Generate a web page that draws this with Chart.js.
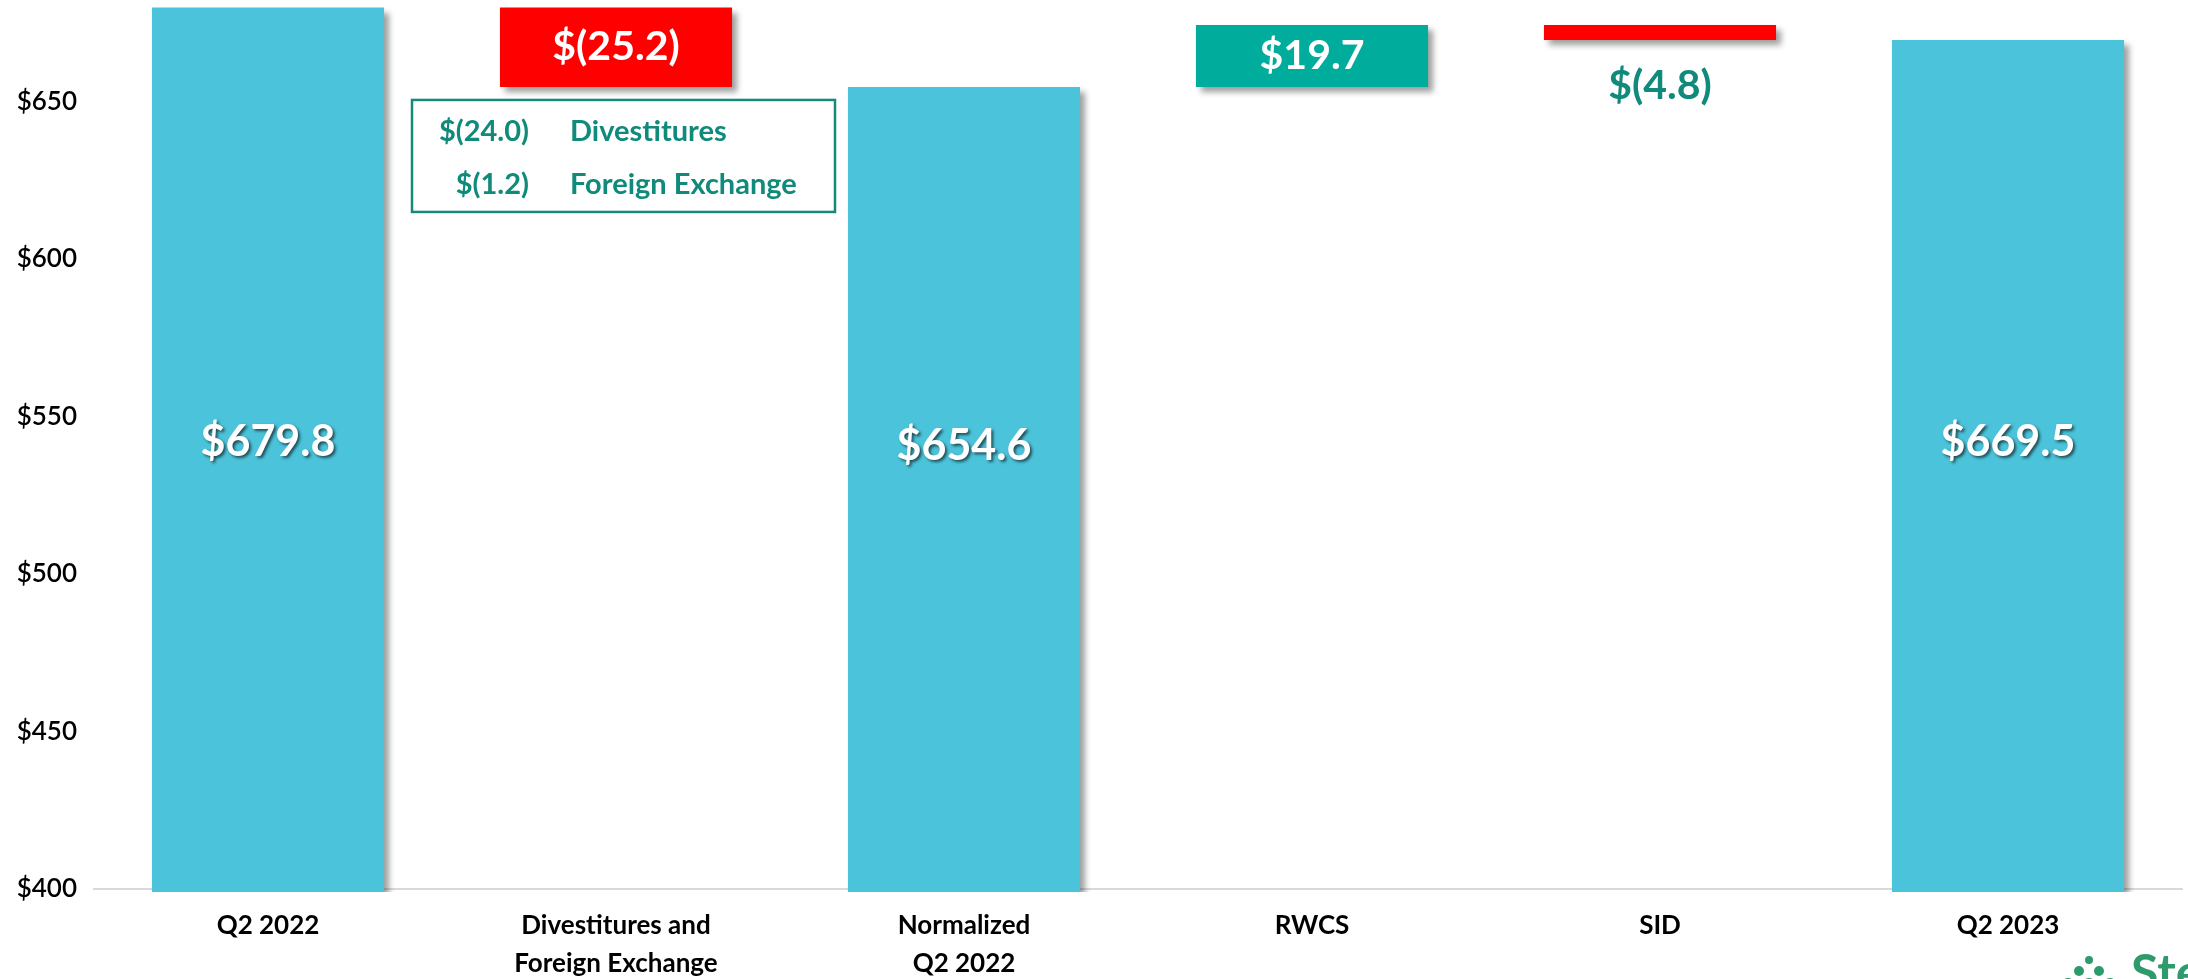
<!DOCTYPE html>
<html>
<head>
<meta charset="utf-8">
<script src="https://cdn.jsdelivr.net/npm/chart.js@4"></script>
<style>
  html, body { margin: 0; padding: 0; background: #fff; }
  #wrap { width: 2188px; height: 979px; }
</style>
</head>
<body>
<div id="wrap"><canvas id="bridgeChart" width="2188" height="979"></canvas></div>
<script>
// bridge Q2 2022 -> Q2 2023 (in $ millions)
const categories = [['Q2 2022'], ['Divestitures and', 'Foreign Exchange'], ['Normalized', 'Q2 2022'], ['RWCS'], ['SID'], ['Q2 2023']];
const stepAmounts = [679.8, -25.2, 654.6, 19.7, -4.8, 669.5];
const stepKinds = ['total', 'change', 'total', 'change', 'change', 'total'];
const yTickValues = [400, 450, 500, 550, 600, 650];
const breakdownNames = ['Divestitures', 'Foreign Exchange'];
const breakdownAmounts = [-24.0, -1.2];

const TOTAL_COLOR = '#4BC3DA';
const DOWN_COLOR = '#FF0000';
const UP_COLOR = '#00AC9B';
const TEAL_TEXT = '#108A7A';

function money(v) {
    const s = Math.abs(v).toFixed(1);
    return v < 0 ? `$(${s})` : `$${s}`;
}

// build floating ranges from running total
let running = 0;
const barRanges = stepAmounts.map((v, i) => {
    if (stepKinds[i] === 'total') {
        running = v;
        return [0, v];
    }
    const from = running;
    running += v;
    return [Math.min(from, running), Math.max(from, running)];
});
const barColors = stepAmounts.map((v, i) =>
    stepKinds[i] === 'total' ? TOTAL_COLOR : (v < 0 ? DOWN_COLOR : UP_COLOR));

// drop shadow under the bars
const barShadow = {
    id: 'barShadow',
    beforeDatasetsDraw(chart) {
        const ctx = chart.ctx;
        ctx.save();
        ctx.shadowColor = 'rgba(0,0,0,0.38)';
        ctx.shadowBlur = 6;
        ctx.shadowOffsetX = 5;
        ctx.shadowOffsetY = 5;
    },
    afterDatasetsDraw(chart) {
        chart.ctx.restore();
    }
};

const waterfallLabels = {
    id: 'waterfallLabels',
    afterDatasetsDraw(chart) {
        const { ctx, scales: { y } } = chart;
        const meta = chart.getDatasetMeta(0);
        ctx.save();
        ctx.textAlign = 'center';
        ctx.textBaseline = 'middle';
        meta.data.forEach((bar, i) => {
            const text = money(stepAmounts[i]);
            if (stepKinds[i] === 'total') {
                ctx.font = 'bold 43px Lato';
                ctx.fillStyle = '#fff';
                ctx.shadowColor = 'rgba(0,0,0,0.6)';
                ctx.shadowBlur = 3;
                ctx.shadowOffsetX = 2;
                ctx.shadowOffsetY = 2;
                ctx.fillText(text, bar.x, y.getPixelForValue(i === 2 ? 540.5 : 542));
                return;
            }
            ctx.shadowColor = 'transparent';
            const top = Math.min(bar.y, bar.base);
            const bottom = Math.max(bar.y, bar.base);
            if (bottom - top > 40) {
                ctx.font = 'bold 41px Lato';
                ctx.fillStyle = '#fff';
                ctx.fillText(text, bar.x, (top + bottom) / 2);
            } else {
                ctx.font = 'bold 41px Lato';
                ctx.fillStyle = TEAL_TEXT;
                ctx.fillText(text, bar.x, bottom + 46);
            }
        });
        ctx.restore();
    }
};

// breakdown box under the divestitures bar
const breakdownBox = {
    id: 'breakdownBox',
    afterDraw(chart) {
        const { ctx, scales: { x, y } } = chart;
        const left = x.getPixelForValue(1) - 204;
        const top = y.getPixelForValue(barRanges[1][0]) + 13;
        ctx.save();
        ctx.strokeStyle = '#16897A';
        ctx.lineWidth = 2.5;
        ctx.strokeRect(left, top, 423, 112);
        ctx.fillStyle = TEAL_TEXT;
        ctx.font = 'bold 29px Lato';
        ctx.textBaseline = 'middle';
        breakdownNames.forEach((name, i) => {
            const rowY = top + 32 + i * 53;
            ctx.textAlign = 'right';
            ctx.fillText(money(breakdownAmounts[i]), left + 117, rowY);
            ctx.textAlign = 'left';
            ctx.fillText(name, left + 158, rowY);
        });
        ctx.restore();
    }
};

// company mark in the bottom corner (cut off by the frame)
const cornerLogo = {
    id: 'cornerLogo',
    afterDraw(chart) {
        const ctx = chart.ctx;
        ctx.save();
        ctx.fillStyle = '#2E9B6C';
        const dots = [[2089, 960, 4], [2079, 971, 5], [2099, 971, 5], [2068, 985, 7], [2089, 985, 7], [2110, 985, 7]];
        dots.forEach(([cx, cy, r]) => {
            ctx.beginPath();
            ctx.arc(cx, cy, r, 0, Math.PI * 2);
            ctx.fill();
        });
        ctx.font = 'bold 50px Lato';
        ctx.textAlign = 'left';
        ctx.textBaseline = 'alphabetic';
        ctx.fillText('Stericycle', 2131, 990);
        ctx.restore();
    }
};

const ctx = document.getElementById('bridgeChart').getContext('2d');
const bridgeChart = new Chart(ctx, {
    type: 'bar',
    data: {
        labels: categories,
        datasets: [{
            data: barRanges,
            backgroundColor: barColors,
            borderWidth: 0,
            barPercentage: 0.667,
            categoryPercentage: 1.0,
            clip: { left: 0, top: 0, right: 0, bottom: 3 }
        }]
    },
    options: {
        responsive: false,
        animation: false,
        layout: { padding: { top: 0, right: 6, bottom: 0, left: 0 } },
        plugins: {
            legend: { display: false },
            tooltip: { enabled: false }
        },
        scales: {
            x: {
                z: 1,
                grid: { display: false, drawTicks: false },
                border: { display: true, color: '#D9D9D9', width: 2 },
                ticks: {
                    color: '#000',
                    padding: 18,
                    maxRotation: 0,
                    autoSkip: false,
                    font: { family: 'Lato', size: 26, weight: 'bold', lineHeight: 1.46 }
                },
                afterFit(scale) {
                    scale.height = 90;
                    scale.paddingLeft = 0;
                    scale.paddingRight = 0;
                }
            },
            y: {
                min: 400,
                max: 682.2,
                grid: { display: false, drawTicks: false },
                border: { display: false },
                ticks: {
                    color: '#000',
                    padding: 17,
                    font: { family: 'Lato', size: 26, weight: '600' },
                    callback: v => '$' + v
                },
                afterBuildTicks(scale) {
                    scale.ticks = yTickValues.map(v => ({ value: v }));
                },
                afterFit(scale) {
                    scale.width = 94;
                    scale.paddingTop = 0;
                    scale.paddingBottom = 0;
                }
            }
        }
    },
    plugins: [barShadow, waterfallLabels, breakdownBox, cornerLogo]
});
</script>
</body>
</html>
